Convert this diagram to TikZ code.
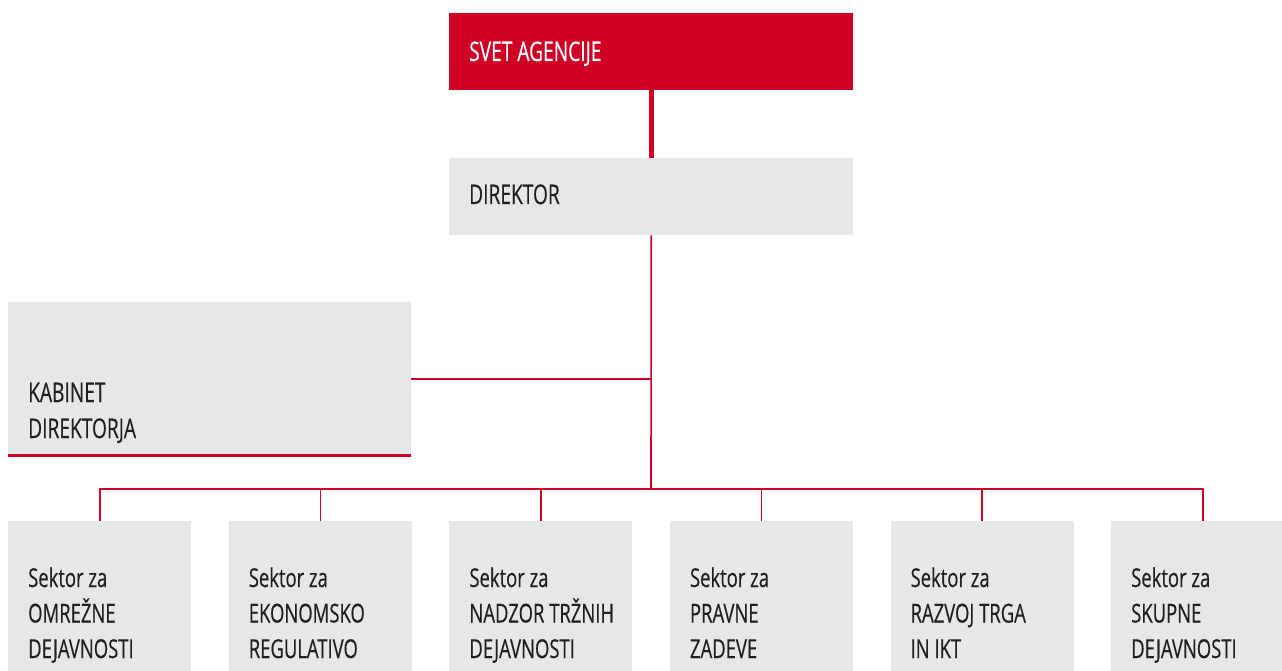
\documentclass[tikz,border=0pt]{standalone}
\usepackage{fontspec}
\setmainfont{Open Sans}[FakeStretch=0.71,FakeBold=0.4]
\usetikzlibrary{positioning}
\definecolor{aknred}{RGB}{208,0,36}
\definecolor{aknbox}{RGB}{230,231,233}
\definecolor{akntext}{RGB}{35,31,32}
\tikzstyle{unit}=[fill=aknbox,inner sep=0pt,anchor=north west]
\tikzstyle{caption}=[inner sep=0pt,anchor=base west,align=left,text=akntext,font=\fontsize{27}{36}\selectfont]
\tikzstyle{small caption}=[caption,font=\fontsize{26}{35.5}\selectfont]
\tikzstyle{link}=[draw=aknred,line width=1.6pt]

\begin{document}
\begin{tikzpicture}[x=1pt,y=-1pt]
\useasboundingbox (0,0) rectangle (1282,671);
% top of the chart
\node[unit,fill=aknred,minimum width=404pt,minimum height=77pt] (svet) at (449,13) {};
\node[unit,minimum width=404pt,minimum height=77pt] (direktor) at (449,158) {};
\node[unit,minimum width=403pt,minimum height=153pt] (kabinet) at (8,302) {};
\node[caption,text=white] (svet-txt) at (469,61) {SVET AGENCIJE};
\node[caption] (direktor-txt) at (469,204) {DIREKTOR};
\node[caption] (kabinet-txt) at (28,438) {KABINET\\DIREKTORJA};
\draw[aknred,line width=3pt] (kabinet.south west) -- (kabinet.south east);
% sectors
\foreach \i/\name in {0/{OMREŽNE\\DEJAVNOSTI},
                      1/{EKONOMSKO\\REGULATIVO},
                      2/{NADZOR TRŽNIH\\DEJAVNOSTI},
                      3/{PRAVNE\\ZADEVE},
                      4/{RAZVOJ TRGA\\IN IKT},
                      5/{SKUPNE\\DEJAVNOSTI}}
  {
  \node[unit,minimum width=183pt,minimum height=186pt] (s\i) at (8+220.6*\i,521) {};
  \node[small caption] (s\i-txt) at (28+220.6*\i,658) {Sektor za\\\name};
  }
% connectors
\coordinate (hub) at (651,489);
\draw[link,line width=5pt] (svet.south) -- (direktor.north);
\draw[link] (direktor.south) -- (hub);
\draw[link] (kabinet.east) -- (kabinet.east -| direktor.south);
\draw[link] (s0.north) |- (hub) -| (s5.north);
\foreach \i in {1,...,4}
  \draw[link] (s\i.north) -- (s\i.north |- hub);
\end{tikzpicture}
\end{document}
